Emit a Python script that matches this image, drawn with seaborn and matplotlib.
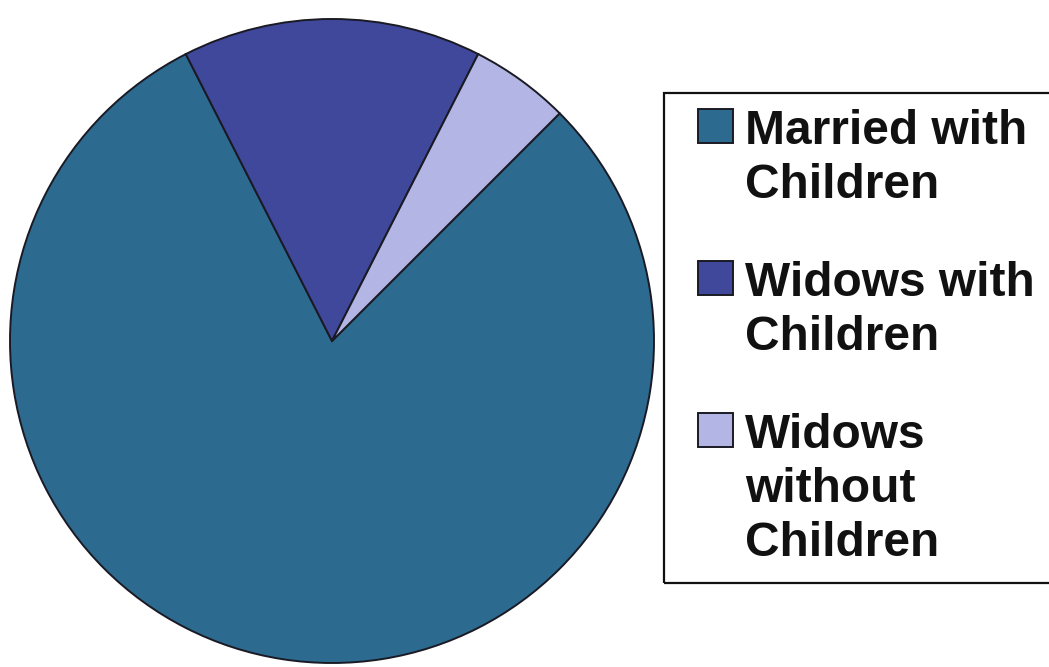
import matplotlib
matplotlib.use("Agg")
import matplotlib.pyplot as plt
from matplotlib.patches import Rectangle
import seaborn as sns

# Household categories and their shares (%)
categories = ["Married with\nChildren", "Widows with\nChildren", "Widows\nwithout\nChildren"]
shares = [80, 15, 5]
colors = ["#2d6a90", "#40489c", "#b3b6e4"]

sns.set_theme(style="white")
plt.rcParams['font.family'] = ['Liberation Sans', 'DejaVu Sans']

W, H = 1049, 667
fig = plt.figure(figsize=(W / 100, H / 100), dpi=100)
ax = fig.add_axes([10 / W, 4 / H, 644 / W, 644 / H])

wedges, _ = ax.pie(
    shares,
    colors=colors,
    startangle=45,
    counterclock=False,
    radius=1.0,
    wedgeprops=dict(edgecolor="#1a1a24", linewidth=1.4),
)
ax.set_xlim(-1.0, 1.0)
ax.set_ylim(-1.0, 1.0)
ax.set_aspect("equal")
ax.axis("off")

# legend frame runs off the right edge, as in the original
fig.add_artist(Rectangle((664 / W, 1 - 583 / H), 0.5, (583 - 93) / H,
                         transform=fig.transFigure, fill=False,
                         edgecolor="#111111", linewidth=1.6))

leg = fig.legend(
    wedges,
    categories,
    loc="upper left",
    bbox_to_anchor=(698 / W, 1 - 109 / H),
    frameon=False,
    labelcolor="#111111",
    prop=dict(size=34.5, weight="bold"),
    handlelength=0.72,
    handleheight=0.72,
    handletextpad=0.27,
    labelspacing=1.1,
    borderpad=0,
    borderaxespad=0,
)
for t in leg.get_texts():
    t.set_linespacing(1.26)

# put each colour square beside the first line of its label
for column in leg._legend_handle_box.get_children():
    for row in column.get_children():
        row.align = "top"

fig.savefig("out.png", dpi=100, facecolor="white")
